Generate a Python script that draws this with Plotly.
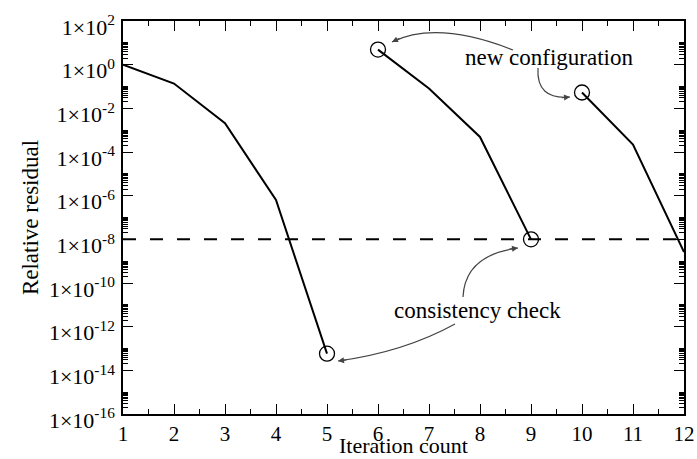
import plotly.graph_objects as go

# ---- data ----
iter_a = [1, 2, 3, 4, 5]
resid_a = [1.0, 0.136, 2.1e-3, 6.3e-7, 5.8e-14]
iter_b = [6, 7, 8, 9]
resid_b = [4.9, 0.081, 4.9e-4, 1.0e-8]
iter_c = [10, 11, 12]
resid_c = [0.053, 2.2e-4, 2.6e-9]
threshold = 1e-8
threshold_x = [1, 12]

ytick_exps = [2, 0, -2, -4, -6, -8, -10, -12, -14, -16]
ytick_vals = [10.0 ** e for e in ytick_exps]
ytick_text = ["1\u00d710<sup>%d</sup>" % e for e in ytick_exps]
yminor_vals = [k * 10.0 ** e for e in ytick_exps for k in range(2, 11) if k * 10.0 ** e <= 100]

label_new = "new configuration"
label_check = "consistency check"
x_title = "Iteration count"
y_title = "Relative residual"

FONT = "Liberation Serif, Times New Roman, serif"
W, H = 697, 459
ML, MR, MT, MB = 123, 13, 21, 45
PW, PH = W - ML - MR, H - MT - MB


def P(px, py):
    return (px - ML) / PW, (H - MB - py) / PH


fig = go.Figure()
for xs, ys in [(iter_a, resid_a), (iter_b, resid_b), (iter_c, resid_c)]:
    fig.add_trace(go.Scatter(x=xs, y=ys, mode="lines",
                             line=dict(color="black", width=2), showlegend=False))

fig.add_trace(go.Scatter(x=threshold_x, y=[threshold, threshold], mode="lines",
                         line=dict(color="black", width=2, dash="13px,14px"),
                         showlegend=False))

cx = [iter_a[-1], iter_b[0], iter_b[-1], iter_c[0]]
cy = [resid_a[-1], resid_b[0], resid_b[-1], resid_c[0]]
fig.add_trace(go.Scatter(x=cx, y=cy, mode="markers",
                         marker=dict(symbol="circle-open", size=15,
                                     line=dict(color="black", width=1.3), color="black"),
                         showlegend=False))

# curved arrows (pixel-derived paper coordinates)
arrows = [
    # start, control, tip
    ((513, 50), (437, 20), (392, 42)),
    ((538, 68), (536, 100), (570, 97)),
    ((463, 297), (465, 255), (518, 248)),
    ((455, 324), (404, 352), (338, 361)),
]
shapes = []
annotations = []
for s, c, t in arrows:
    s0, c0, t0 = P(*s), P(*c), P(*t)
    shapes.append(dict(type="path", xref="paper", yref="paper",
                       path="M %f,%f Q %f,%f %f,%f" % (s0[0], s0[1], c0[0], c0[1], t0[0], t0[1]),
                       line=dict(color="#444444", width=1.2)))
    dx, dy = c[0] - t[0], c[1] - t[1]
    n = (dx * dx + dy * dy) ** 0.5
    annotations.append(dict(x=t0[0], y=t0[1], xref="paper", yref="paper",
                            text="", showarrow=True, ax=dx / n * 10, ay=dy / n * 10,
                            arrowhead=2, arrowsize=1, arrowwidth=1.2,
                            arrowcolor="#444444", standoff=0))

tx, ty = P(549, 57)
annotations.append(dict(x=tx, y=ty, xref="paper", yref="paper", text=label_new,
                        showarrow=False, xanchor="center", yanchor="middle",
                        font=dict(family=FONT, size=23, color="black")))
tx, ty = P(477, 310)
annotations.append(dict(x=tx, y=ty, xref="paper", yref="paper", text=label_check,
                        showarrow=False, xanchor="center", yanchor="middle",
                        font=dict(family=FONT, size=23, color="black")))
tx, ty = P(403.5, 459)
annotations.append(dict(x=tx, y=ty, xref="paper", yref="paper", text=x_title,
                        showarrow=False, xanchor="center", yanchor="bottom", borderpad=0,
                        font=dict(family=FONT, size=22, color="black")))

fig.update_layout(
    width=W, height=H,
    margin=dict(l=ML, r=MR, t=MT, b=MB, pad=0),
    paper_bgcolor="white", plot_bgcolor="white",
    font=dict(family=FONT, color="black"),
    shapes=shapes, annotations=annotations,
    showlegend=False,
)
fig.update_xaxes(
    range=[1, 12], tickmode="linear", tick0=1, dtick=1,
    ticks="inside", ticklen=10, tickwidth=1.2, tickcolor="black",
    minor=dict(dtick=0.5, ticks="inside", ticklen=5, tickwidth=1.2, tickcolor="black"),
    showline=True, linecolor="black", linewidth=1.5, mirror="ticks",
    showgrid=False, zeroline=False,
    tickfont=dict(family=FONT, size=21, color="black"),
    automargin=False,
)
fig.update_yaxes(
    type="log", range=[-16, 2], tickmode="array", tickvals=ytick_vals, ticktext=ytick_text,
    ticks="inside", ticklen=10, tickwidth=1.2, tickcolor="black",
    minor=dict(tickmode="array", tickvals=yminor_vals, ticks="inside", ticklen=5,
               tickwidth=1, tickcolor="black"),
    showline=True, linecolor="black", linewidth=1.5, mirror="ticks",
    showgrid=False, zeroline=False,
    tickfont=dict(family=FONT, size=22, color="black"),
    ticklabelshift=6, ticklabelstandoff=2,
    title=dict(text=y_title, font=dict(family=FONT, size=23, color="black"), standoff=4),
    automargin=False,
)

fig.write_html("out.html")
